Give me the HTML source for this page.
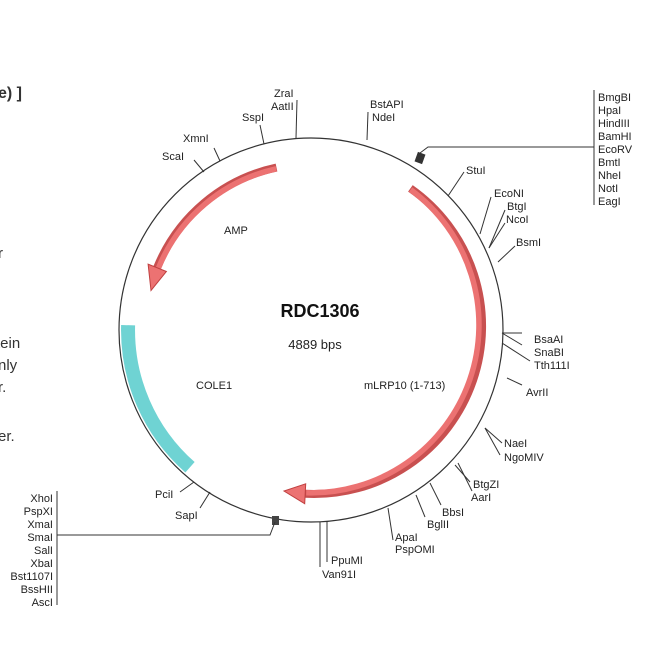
<!DOCTYPE html>
<html><head><meta charset="utf-8"><style>
body{margin:0;background:#fff}
svg{display:block}
text{font-family:"Liberation Sans",sans-serif;fill:#222}
.s{font-size:11px}
.l{font-family:"Liberation Sans",sans-serif;font-size:15px;fill:#333}
</style></head><body>
<svg width="650" height="650" viewBox="0 0 650 650" xmlns="http://www.w3.org/2000/svg">
<text class="l" x="-2" y="98" style="font-weight:bold;font-size:16px">e) ]</text>
<text class="l" x="-2" y="258">r</text>
<text class="l" x="-4" y="348">tein</text>
<text class="l" x="-2" y="370">nly</text>
<text class="l" x="-2" y="392">r.</text>
<text class="l" x="-2" y="441">er.</text>

<circle cx="311" cy="330" r="192" fill="none" stroke="#333" stroke-width="1.2"/>

<path d="M128.1,325.2 A183,183 0 0 0 190,467.3" fill="none" stroke="#6fd3d3" stroke-width="14"/>

<path d="M410.4,188.4 A168,168 0 0 1 305.2,493.8" fill="none" stroke="#c85050" stroke-width="8"/>
<path d="M410.6,189.6 A168,168 0 0 1 306.2,492.8" fill="none" stroke="#ec7272" stroke-width="5.5"/>
<polygon points="304.7,503.7 284,491 305.7,483.8" fill="#ec7272" stroke="#c04040" stroke-width="1"/>
<path d="M276.5,167.6 A166,166 0 0 0 157.1,267.8" fill="none" stroke="#c85050" stroke-width="8"/>
<path d="M276.2,168.8 A166,166 0 0 0 158.3,268.4" fill="none" stroke="#ec7272" stroke-width="5.5"/>
<polygon points="148.1,264.1 151,290.5 166.4,271.5" fill="#ec7272" stroke="#c04040" stroke-width="1"/>

<text x="320" y="317" text-anchor="middle" style="font-size:18px;font-weight:bold;fill:#111">RDC1306</text>
<text x="315" y="349" text-anchor="middle" style="font-size:13px">4889 bps</text>
<text x="224" y="234" class="s">AMP</text>
<text x="196" y="389" class="s">COLE1</text>
<text x="364" y="389" class="s">mLRP10 (1-713)</text>

<g stroke="#333" stroke-width="1" fill="none">
<line x1="296" y1="138" x2="297" y2="100"/>
<line x1="264" y1="144" x2="260" y2="125"/>
<line x1="367" y1="140" x2="368" y2="112"/>
<line x1="220" y1="161" x2="214" y2="148"/>
<line x1="204" y1="172" x2="194" y2="160"/>
<line x1="448" y1="196" x2="464" y2="172"/>
<line x1="480" y1="234" x2="491" y2="197"/>
<line x1="489" y1="248" x2="505" y2="210"/>
<line x1="489" y1="248" x2="505" y2="223"/>
<line x1="498" y1="262" x2="515" y2="246"/>
<line x1="502" y1="333" x2="522" y2="333"/>
<line x1="502" y1="333" x2="522" y2="345"/>
<line x1="502" y1="343" x2="530" y2="361"/>
<line x1="507" y1="378" x2="522" y2="385"/>
<line x1="485" y1="428" x2="502" y2="443"/>
<line x1="485" y1="428" x2="500" y2="455"/>
<line x1="455" y1="465" x2="470" y2="482"/>
<line x1="458" y1="463" x2="472" y2="491"/>
<line x1="430" y1="483" x2="441" y2="505"/>
<line x1="416" y1="495" x2="425" y2="517"/>
<line x1="388" y1="508" x2="393" y2="540"/>
<line x1="320" y1="522" x2="320" y2="567"/>
<line x1="327" y1="522" x2="327" y2="562"/>
<line x1="194" y1="482" x2="180" y2="492"/>
<line x1="210" y1="492" x2="200" y2="508"/>
</g>

<rect x="416" y="153" width="8" height="10" fill="#333" transform="rotate(20 420 158)"/>
<polyline points="420,153 428,147 594,147" fill="none" stroke="#333"/>
<line x1="594" y1="90" x2="594" y2="205" stroke="#333"/>
<text x="598" y="101" class="s">BmgBI</text>
<text x="598" y="114" class="s">HpaI</text>
<text x="598" y="127" class="s">HindIII</text>
<text x="598" y="140" class="s">BamHI</text>
<text x="598" y="153" class="s">EcoRV</text>
<text x="598" y="166" class="s">BmtI</text>
<text x="598" y="179" class="s">NheI</text>
<text x="598" y="192" class="s">NotI</text>
<text x="598" y="205" class="s">EagI</text>

<rect x="272" y="516" width="7" height="9" fill="#444"/>
<polyline points="275,522 270,535 57,535" fill="none" stroke="#333"/>
<line x1="57" y1="491" x2="57" y2="605" stroke="#333"/>
<g text-anchor="end">
<text x="53" y="502" class="s">XhoI</text>
<text x="53" y="515" class="s">PspXI</text>
<text x="53" y="528" class="s">XmaI</text>
<text x="53" y="541" class="s">SmaI</text>
<text x="53" y="554" class="s">SalI</text>
<text x="53" y="567" class="s">XbaI</text>
<text x="53" y="580" class="s">Bst1107I</text>
<text x="53" y="593" class="s">BssHII</text>
<text x="53" y="606" class="s">AscI</text>
</g>

<text x="274" y="97" class="s">ZraI</text>
<text x="271" y="110" class="s">AatII</text>
<text x="242" y="121" class="s">SspI</text>
<text x="370" y="108" class="s">BstAPI</text>
<text x="372" y="121" class="s">NdeI</text>
<text x="183" y="142" class="s">XmnI</text>
<text x="162" y="160" class="s">ScaI</text>
<text x="466" y="174" class="s">StuI</text>
<text x="494" y="197" class="s">EcoNI</text>
<text x="507" y="210" class="s">BtgI</text>
<text x="506" y="223" class="s">NcoI</text>
<text x="516" y="246" class="s">BsmI</text>
<text x="534" y="343" class="s">BsaAI</text>
<text x="534" y="356" class="s">SnaBI</text>
<text x="534" y="369" class="s">Tth111I</text>
<text x="526" y="396" class="s">AvrII</text>
<text x="504" y="447" class="s">NaeI</text>
<text x="504" y="461" class="s">NgoMIV</text>
<text x="473" y="488" class="s">BtgZI</text>
<text x="471" y="501" class="s">AarI</text>
<text x="442" y="516" class="s">BbsI</text>
<text x="427" y="528" class="s">BglII</text>
<text x="395" y="541" class="s">ApaI</text>
<text x="395" y="553" class="s">PspOMI</text>
<text x="331" y="564" class="s">PpuMI</text>
<text x="322" y="578" class="s">Van91I</text>
<text x="155" y="498" class="s">PciI</text>
<text x="175" y="519" class="s">SapI</text>
</svg>
</body></html>
